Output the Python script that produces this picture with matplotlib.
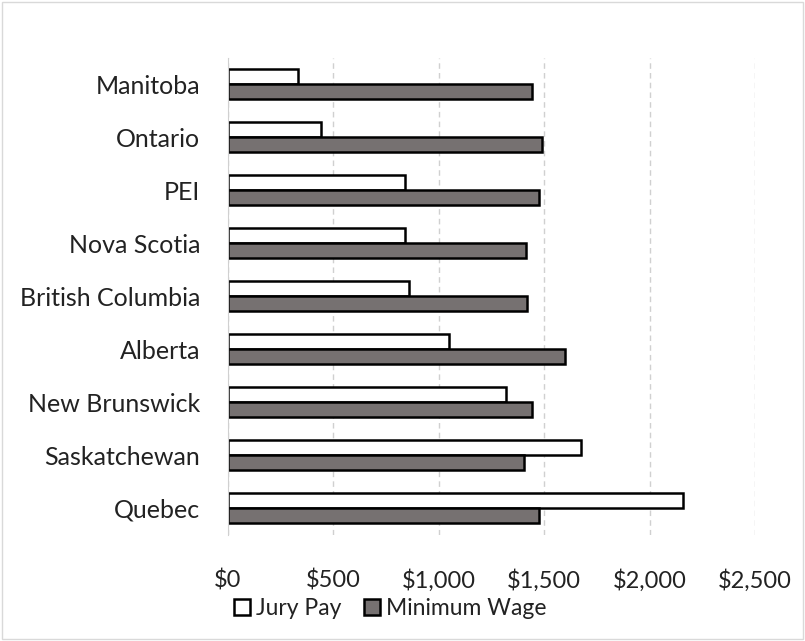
import matplotlib.pyplot as plt
import numpy as np
from matplotlib.ticker import FuncFormatter
from matplotlib.patches import Rectangle

provinces = ['Manitoba', 'Ontario', 'PEI', 'Nova Scotia', 'British Columbia',
             'Alberta', 'New Brunswick', 'Saskatchewan', 'Quebec']
jury_pay = [330, 440, 840, 840, 860, 1050, 1320, 1675, 2160]
min_wage = [1440, 1490, 1475, 1415, 1418, 1597, 1440, 1403, 1475]

plt.rcParams['font.family'] = ['Lato', 'DejaVu Sans']

fig = plt.figure(figsize=(8.05, 6.41), dpi=100)
ax = fig.add_axes([0.2832, 0.166, 0.6547, 0.744])

y = np.arange(len(provinces))
h = 0.28
ax.barh(y - h / 2, jury_pay, height=h, color='white', edgecolor='black',
        linewidth=1.8, label='Jury Pay')
ax.barh(y + h / 2, min_wage, height=h, color='#767171', edgecolor='black',
        linewidth=1.8, label='Minimum Wage')

ax.set_ylim(len(provinces) - 0.5, -0.5)
ax.set_xlim(0, 2500)
ax.set_xticks(range(0, 2501, 500))
ax.xaxis.set_major_formatter(FuncFormatter(lambda v, p: f'${int(v):,}'))
ax.set_yticks(y)
ax.set_yticklabels(provinces)

ax.grid(axis='x', color='#d0d0d0', linestyle=(0, (4, 3)), linewidth=1)
ax.set_axisbelow(True)
for s in ['top', 'right', 'bottom']:
    ax.spines[s].set_visible(False)
ax.spines['left'].set_color('#d0d0d0')
ax.tick_params(axis='both', length=0, colors='#222222')
ax.tick_params(axis='x', pad=25, labelsize=17)
ax.tick_params(axis='y', pad=20, labelsize=18)

fig.legend(loc='center', bbox_to_anchor=(0.485, 0.051), ncol=2, frameon=False,
           fontsize=16.5, handlelength=0.7, handleheight=0.7, handletextpad=0.25,
           columnspacing=1.0, labelcolor='#222222')

fig.patches.append(Rectangle((0.003, 0.003), 0.994, 0.994, transform=fig.transFigure,
                             fill=False, edgecolor='#d9d9d9', linewidth=1))

fig.savefig('out.png', dpi=100)
